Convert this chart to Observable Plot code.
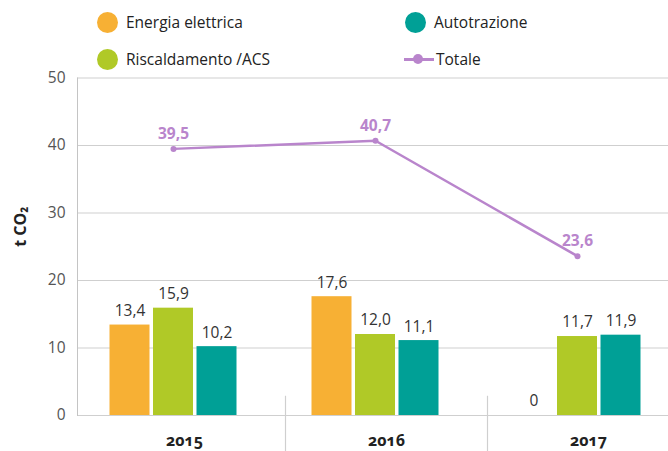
<!DOCTYPE html>
<html>
<head>
<meta charset="utf-8">
<script src="https://cdn.jsdelivr.net/npm/d3@7"></script>
<script src="https://cdn.jsdelivr.net/npm/@observablehq/plot@0.6"></script>
<style>
  html, body { margin: 0; padding: 0; background: #fff; overflow: hidden; }
  body { width: 668px; height: 451px; font-family: "Open Sans", sans-serif; }
  #legend { position: relative; width: 668px; height: 70px; }
  .item { position: absolute; height: 22px; display: flex; align-items: center; font-size: 15.5px; color: #222; white-space: nowrap; }
  .sw { width: 21px; height: 21px; border-radius: 50%; margin-right: 8px; }
  .ln { position: relative; width: 30px; height: 22px; margin-right: 2px; }
  .ln::before { content: ""; position: absolute; left: 0; right: 0; top: 10px; height: 3px; background: var(--c); }
  .ln::after { content: ""; position: absolute; left: 9px; top: 6px; width: 10px; height: 10px; border-radius: 50%; background: var(--c); }
  g[aria-label="x-axis tick label"] text { font-variant-numeric: oldstyle-nums; }
</style>
</head>
<body>
<div id="legend"></div>
<div id="chart"></div>
<script>
const years = ["2015", "2016", "2017"];
const seriesNames = ["Energia elettrica", "Riscaldamento /ACS", "Autotrazione"];
const energiaElettrica = [13.4, 17.6, 0];
const riscaldamento = [15.9, 12.0, 11.7];
const autotrazione = [10.2, 11.1, 11.9];
const totale = [39.5, 40.7, 23.6];
const totaleName = "Totale";
const yTicks = [0, 10, 20, 30, 40, 50];
const yLabel = "t CO₂";

const colors = ["#f7b034", "#b0c927", "#00a096"];
const purple = "#b985cc";

const seriesValues = [energiaElettrica, riscaldamento, autotrazione];
const fmt = v => v === 0 ? "0" : v.toFixed(1).replace(".", ",");

// legend (HTML)
const legend = document.getElementById("legend");
const legendPos = [
  {left: 97, top: 11}, {left: 97, top: 48}, {left: 405, top: 11}
];
seriesNames.forEach((n, i) => {
  const d = document.createElement("div");
  d.className = "item";
  d.style.left = legendPos[i].left + "px";
  d.style.top = legendPos[i].top + "px";
  d.innerHTML = `<span class="sw" style="background:${colors[i]}"></span><span>${n}</span>`;
  legend.appendChild(d);
});
{
  const d = document.createElement("div");
  d.className = "item";
  d.style.left = "404px";
  d.style.top = "48px";
  d.innerHTML = `<span class="ln" style="--c:${purple}"></span><span>${totaleName}</span>`;
  legend.appendChild(d);
}

const width = 668;
const xRange = [72, 678];
const bw = (xRange[1] - xRange[0]) / years.length;
const barW = 40, step = 43.5;

const marks = [
  Plot.ruleY(yTicks.slice(1), {stroke: "#cfcfcf", strokeWidth: 1.2}),
  Plot.ruleY([0], {stroke: "#cfcfcf", strokeWidth: 1.2}),
  Plot.frame({anchor: "left", stroke: "#c4c4c4"}),
  Plot.ruleX(years.slice(1), {y1: 2.85, y2: -5.5, dx: -bw / 2 + 11, stroke: "#cfcfcf", strokeWidth: 1.2})
];

seriesValues.forEach((vals, i) => {
  const rows = years.map((yr, j) => ({year: yr, value: vals[j]}));
  const off = (i - 1) * step;
  marks.push(Plot.barY(rows, {x: "year", y: "value", fill: colors[i], insetLeft: (bw - barW) / 2, insetRight: (bw - barW) / 2, dx: off}));
  marks.push(Plot.text(rows, {x: "year", y: "value", text: d => fmt(d.value), dx: off, dy: -14, fill: "#333", fontSize: 15.5}));
});

const totRows = years.map((yr, j) => ({year: yr, value: totale[j]}));
marks.push(Plot.line(totRows, {x: "year", y: "value", stroke: purple, strokeWidth: 2.5}));
marks.push(Plot.dot(totRows, {x: "year", y: "value", fill: purple, r: 3}));
marks.push(Plot.text(totRows, {x: "year", y: "value", text: d => fmt(d.value), dy: -15, fill: purple, fontWeight: "bold", fontSize: 15.5}));

marks.push(Plot.axisY({ticks: yTicks, tickSize: 0, tickPadding: 12, fontSize: 15.5, fill: "#555", label: null}));
marks.push(Plot.axisX({tickSize: 0, tickPadding: 19, fontSize: 16, fontWeight: "bold", fill: "#222", dx: 11, label: null}));
marks.push(Plot.text([yLabel], {frameAnchor: "left", rotate: -90, dx: -57, fontWeight: "bold", fontSize: 16, fill: "#222"}));

const chart = Plot.plot({
  width,
  height: 381,
  marginLeft: 77,
  marginRight: 0,
  marginTop: 7.5,
  marginBottom: 36,
  x: {type: "band", domain: years, range: xRange, padding: 0},
  y: {domain: [0, 50]},
  style: {fontFamily: "'Open Sans', sans-serif", background: "#fff", overflow: "visible"},
  marks
});
document.getElementById("chart").appendChild(chart);
</script>
</body>
</html>
